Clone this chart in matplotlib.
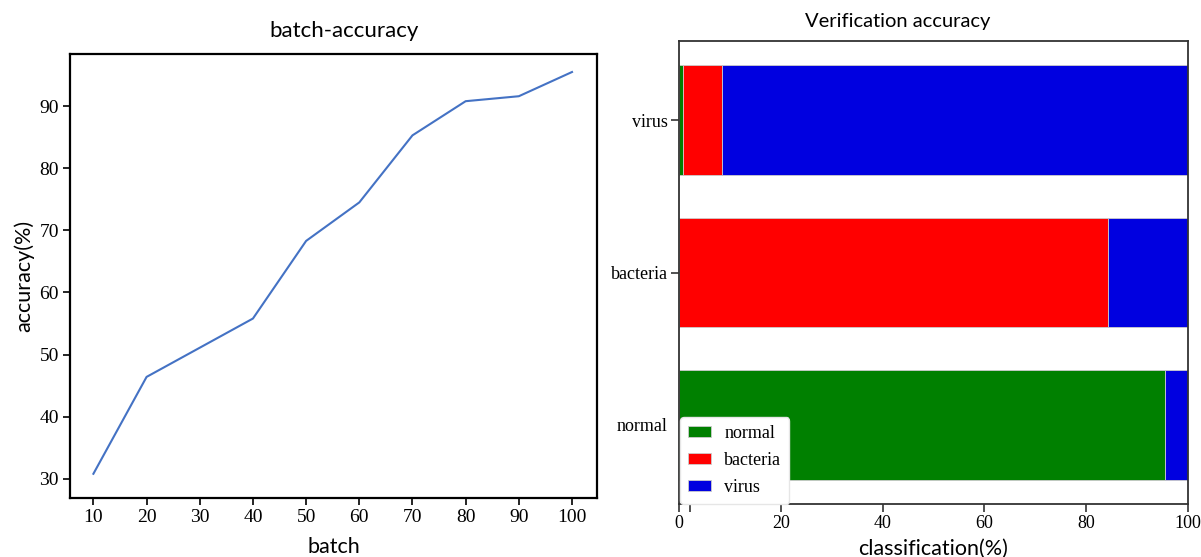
import matplotlib
matplotlib.use("Agg")
import matplotlib.pyplot as plt
import numpy as np

# ---- data ----
batches = [10, 20, 30, 40, 50, 60, 70, 80, 90, 100]
accuracy = [30.8, 46.4, 51.1, 55.8, 68.3, 74.5, 85.3, 90.8, 91.6, 95.5]

classes = ["normal", "bacteria", "virus"]
pred_normal = [95.4, 0.0, 0.8]
pred_bacteria = [0.0, 84.3, 7.7]
pred_virus = [4.6, 15.7, 91.5]

x_ticks = [10, 20, 30, 40, 50, 60, 70, 80, 90, 100]
y_ticks = [30, 40, 50, 60, 70, 80, 90]
cls_ticks = [0, 20, 40, 60, 80, 100]

serif = "Liberation Serif"
sans = "Lato"

fig = plt.figure(figsize=(12.01, 5.57), dpi=100)

# ---- left: line chart ----
ax1 = fig.add_axes([70 / 1201, 59 / 557, 527 / 1201, 444 / 557])
ax1.plot(batches, accuracy, color="#4472C4", lw=1.5)
ax1.set_xlim(5.6, 104.7)
ax1.set_ylim(26.9, 98.4)
ax1.set_xticks(x_ticks)
ax1.set_yticks(y_ticks)
for lab in ax1.get_xticklabels() + ax1.get_yticklabels():
    lab.set_fontfamily(serif)
    lab.set_fontsize(14)
ax1.tick_params(direction="out", length=5, width=1.2, color="black", pad=3)
for sp in ax1.spines.values():
    sp.set_linewidth(1.6)
    sp.set_color("black")
ax1.set_title("batch-accuracy", fontfamily=sans, fontsize=16, pad=12, x=0.52)
ax1.set_xlabel("batch", fontfamily=sans, fontsize=15.5, labelpad=8)
ax1.set_ylabel("accuracy(%)", fontfamily=sans, fontsize=15.5, labelpad=4)

# ---- right: stacked horizontal bars ----
ax2 = fig.add_axes([679 / 1201, 53 / 557, 509 / 1201, 463 / 557])
ypos = np.arange(len(classes))
h = 0.72
ec = "#cccccc"
left = np.zeros(len(classes))
ax2.barh(ypos, pred_normal, height=h, left=left, color="#008000", edgecolor=ec, lw=0.6, label="normal")
left = left + np.array(pred_normal)
ax2.barh(ypos, pred_bacteria, height=h, left=left, color="#ff0000", edgecolor=ec, lw=0.6, label="bacteria")
left = left + np.array(pred_bacteria)
ax2.barh(ypos, pred_virus, height=h, left=left, color="#0000e0", edgecolor=ec, lw=0.6, label="virus")
ax2.set_xlim(0, 100)
ax2.set_ylim(-0.52, 2.52)
ax2.set_yticks(ypos)
ax2.set_yticklabels(classes)
ax2.set_xticks(cls_ticks)
ax2.set_xticks([2.2], minor=True)
for lab in ax2.get_xticklabels() + ax2.get_yticklabels():
    lab.set_fontfamily(serif)
    lab.set_fontsize(13)
ax2.tick_params(axis="both", which="both", direction="out", length=6, width=1.1, color="#222222", pad=2)
ax2.yaxis.get_major_ticks()[0].tick1line.set_visible(False)
for sp in ax2.spines.values():
    sp.set_linewidth(1.3)
    sp.set_color("#333333")
ax2.set_title("Verification accuracy", fontfamily=sans, fontsize=14.5, pad=10, x=0.43)
ax2.set_xlabel("classification(%)", fontfamily=sans, fontsize=15.5, labelpad=5)
leg = ax2.legend(loc="lower left", prop={"family": serif, "size": 13},
                 handlelength=1.25, handleheight=0.55, borderpad=0.45,
                 labelspacing=0.55, handletextpad=0.75, frameon=True,
                 fancybox=True, framealpha=1.0, borderaxespad=0,
                 bbox_to_anchor=(0.002, 0.0))
leg.get_frame().set_edgecolor("#e6e6e6")
leg.get_frame().set_linewidth(1.0)

fig.savefig("out.png", dpi=100)
